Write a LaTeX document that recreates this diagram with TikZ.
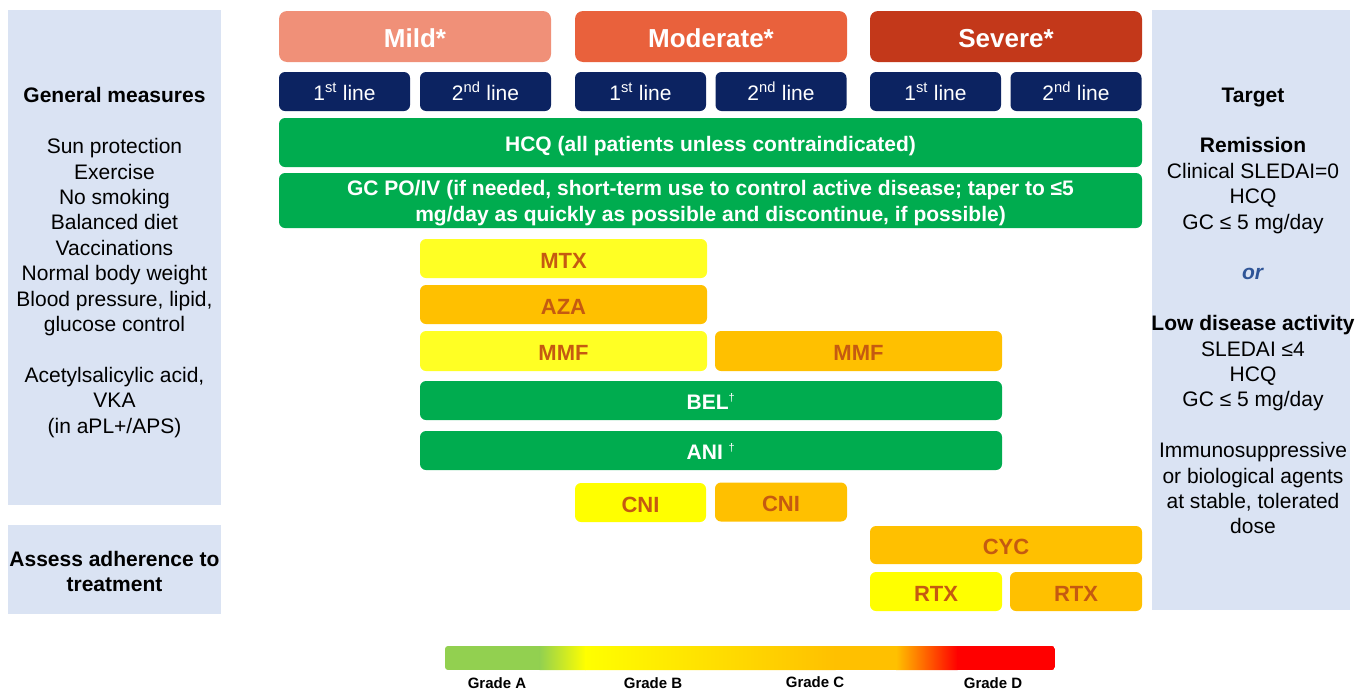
\documentclass[tikz,border=0pt]{standalone}
\usepackage{fontspec}
\setmainfont{Liberation Sans}
\definecolor{mildc}{HTML}{F09078}
\definecolor{modc}{HTML}{E9613C}
\definecolor{sevc}{HTML}{C3381A}
\definecolor{navy}{HTML}{0C2361}
\definecolor{grn}{HTML}{00AC4F}
\definecolor{yel}{HTML}{FFFF00}
\definecolor{yelmtx}{HTML}{FFFF24}
\definecolor{org}{HTML}{FFC000}
\definecolor{txto}{HTML}{C55A11}
\definecolor{panelc}{HTML}{DAE3F3}
\definecolor{orc}{HTML}{2F5597}
\definecolor{gA}{HTML}{92D050}
\definecolor{gR}{HTML}{FF0000}
\tikzset{
 box/.style={rounded corners=6pt, minimum height=39pt, inner sep=0pt, align=center, text depth=0pt},
 head/.style={box, rounded corners=8pt, text=white, font=\bfseries\fontsize{26}{30}\selectfont, minimum height=51pt, minimum width=272pt, text height=22.6pt},
 linebox/.style={box, fill=navy, text=white, font=\fontsize{21}{25}\selectfont, minimum width=131pt, text height=17pt},
 gbox/.style={box, fill=grn, text=white, font=\bfseries\fontsize{21}{26}\selectfont, text height=17.5pt},
 ybox/.style={box, fill=yel, text=txto, font=\bfseries\fontsize{22}{26}\selectfont, text height=19pt},
 obox/.style={ybox, fill=org},
 panel/.style={fill=panelc, draw=none, inner sep=0pt},
 ptext/.style={align=center, font=\fontsize{21}{25.4}\selectfont, inner sep=0pt, anchor=north},
 grade/.style={font=\bfseries\fontsize{15}{17}\selectfont}
}
\newcommand{\mydag}{\textsuperscript{\normalfont\fontsize{11}{11}\selectfont †}}
\begin{document}
\begin{tikzpicture}[x=1pt,y=-1pt]
\useasboundingbox (0,0) rectangle (1358,691);
% panels
\node[panel, minimum width=213pt, minimum height=495pt] (lpanel) at (114.5,257.5) {};
\node[panel, minimum width=213pt, minimum height=89pt] (apanel) at (114.5,569.5) {};
\node[panel, minimum width=198pt, minimum height=600pt] (rpanel) at (1251,310) {};
\node[ptext] (ltext) at (114.5,87.5) {\textbf{General measures}\\[25.4pt]
Sun protection\\Exercise\\No smoking\\Balanced diet\\Vaccinations\\Normal body weight\\Blood pressure, lipid,\\glucose control\\[25.4pt]
Acetylsalicylic acid,\\VKA\\(in aPL+/APS)};
\node[ptext, font=\bfseries\fontsize{21}{25.4}\selectfont, anchor=center] (atext) at (114.5,571.5) {Assess adherence to\\treatment};
\node[ptext] (rtext) at (1253,87.5) {\textbf{Target}\\[25.4pt]
\textbf{Remission}\\Clinical SLEDAI=0\\HCQ\\GC ≤ 5 mg/day\\[25.4pt]
\textcolor{orc}{\textbf{\itshape or}}\\[25.4pt]
\textbf{Low disease activity}\\SLEDAI ≤4\\HCQ\\GC ≤ 5 mg/day\\[25.4pt]
Immunosuppressive\\or biological agents\\at stable, tolerated\\dose};
% headers
\node[head, fill=mildc] (mild) at (415,36.5) {Mild*};
\node[head, fill=modc] (mod) at (711,36.5) {Moderate*};
\node[head, fill=sevc] (sev) at (1006,36.5) {Severe*};
\node[linebox] (m1) at (344.5,91.5) {1\textsuperscript{st} line};
\node[linebox] (m2) at (485.5,91.5) {2\textsuperscript{nd} line};
\node[linebox] (o1) at (640.5,91.5) {1\textsuperscript{st} line};
\node[linebox] (o2) at (781,91.5) {2\textsuperscript{nd} line};
\node[linebox] (s1) at (935.5,91.5) {1\textsuperscript{st} line};
\node[linebox] (s2) at (1076,91.5) {2\textsuperscript{nd} line};
% drugs
\node[gbox, minimum width=863pt, minimum height=49pt] (hcq) at (710.5,142.5) {HCQ (all patients unless contraindicated)};
\node[gbox, minimum width=863pt, minimum height=55pt] (gc) at (710.5,200.5) {};
\node[align=center, text=white, inner sep=0pt, font=\bfseries\fontsize{21}{26}\selectfont] (gctext) at (710.5,203.5) {GC PO/IV (if needed, short-term use to control active disease; taper to ≤5\\mg/day as quickly as possible and discontinue, if possible)};
\node[ybox, fill=yelmtx, minimum width=287pt] (mtx) at (563.5,258.5) {MTX};
\node[obox, minimum width=287pt] (aza) at (563.5,304.5) {AZA};
\node[ybox, fill=yelmtx, minimum width=287pt, minimum height=40pt] (mmfy) at (563.5,351) {MMF};
\node[obox, minimum width=287pt, minimum height=40pt] (mmfo) at (858.5,351) {MMF};
\node[gbox, minimum width=582pt] (bel) at (711,400.5) {BEL\mydag};
\node[gbox, minimum width=582pt] (ani) at (711,450.5) {ANI \mydag};
\node[ybox, minimum width=131pt] (cniy) at (640.5,502.5) {CNI};
\node[obox, minimum width=132pt] (cnio) at (781,502) {CNI};
\node[obox, minimum width=272pt, minimum height=38pt] (cyc) at (1006,545) {CYC};
\node[ybox, minimum width=132pt] (rtxy) at (936,591.5) {RTX};
\node[obox, minimum width=132pt] (rtxo) at (1076,591.5) {RTX};
% gradient bar
\begin{scope}
\clip[rounded corners=3pt] (445,646) rectangle (1055,670);
\fill[gA] (445,646) rectangle (540,670);
\shade[left color=gA, right color=yel] (539.5,646) rectangle (585.5,670);
\shade[left color=yel, right color=org] (585,646) rectangle (835.5,670);
\fill[org] (835,646) rectangle (896.5,670);
\shade[left color=org, right color=gR] (896,646) rectangle (957.5,670);
\fill[gR] (957,646) rectangle (1055,670);
\end{scope}
\node[grade] (ga) at (497,683) {Grade A};
\node[grade] (gb) at (653,683.5) {Grade B};
\node[grade] (gcl) at (815,682) {Grade C};
\node[grade] (gd) at (993,683.5) {Grade D};
\end{tikzpicture}
\end{document}
